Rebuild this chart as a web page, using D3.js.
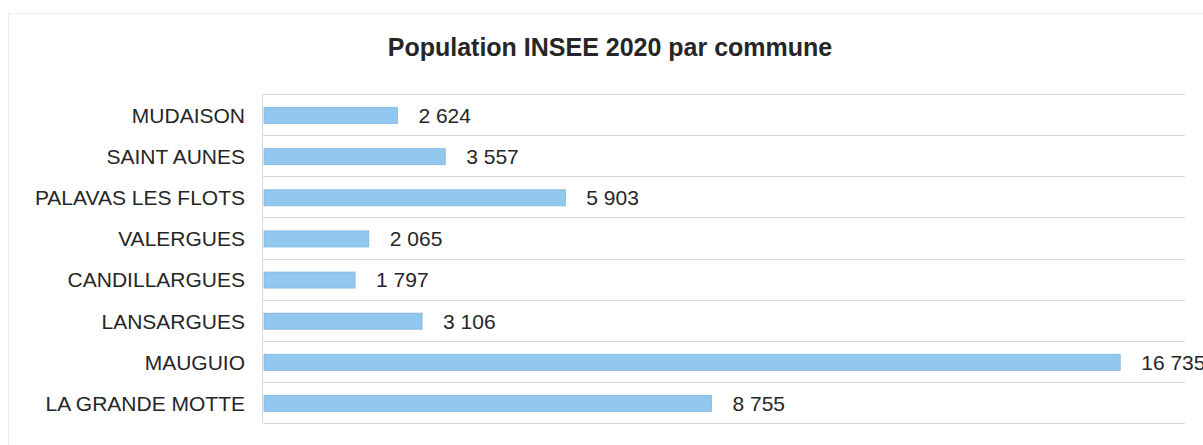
<!DOCTYPE html>
<html><head><meta charset="utf-8">
<script src="https://cdn.jsdelivr.net/npm/d3@7"></script>
<style>
html,body{margin:0;padding:0;background:#fff;}
svg{display:block;}
text{font-family:"Liberation Sans",Arial,sans-serif;fill:#262626;}
</style></head>
<body>
<svg id="chart" width="1203" height="445"></svg>
<script>
const title = "Population INSEE 2020 par commune";
const communes = ["MUDAISON","SAINT AUNES","PALAVAS LES FLOTS","VALERGUES","CANDILLARGUES","LANSARGUES","MAUGUIO","LA GRANDE MOTTE"];
const population = [2624,3557,5903,2065,1797,3106,16735,8755];
const xMax = 18000;

const svg = d3.select("#chart");
const W = 1203, H = 445;
const plot = {left:263, right:1185, top:94, bottom:423};

// faint chart border
svg.append("rect").attr("x",8.5).attr("y",13.5).attr("width",W).attr("height",H)
  .attr("fill","none").attr("stroke","#ececec").attr("stroke-width",1);

svg.append("text").attr("x",610).attr("y",56).attr("text-anchor","middle")
  .style("font-weight","bold").style("font-size","25px").text(title);

const x = d3.scaleLinear().domain([0,xMax]).range([plot.left,plot.right]);
const y = d3.scaleBand().domain(communes).range([plot.top,plot.bottom]).paddingInner(0).paddingOuter(0);

const fr = d3.formatLocale({decimal:",",thousands:"\u00a0",grouping:[3],currency:["","\u00a0€"]});
const fmt = fr.format(",d");

// gridlines at band boundaries
const bounds = communes.map(c=>y(c)).concat([y(communes[communes.length-1])+y.bandwidth()]);
svg.append("g").selectAll("line").data(bounds).join("line")
  .attr("x1",plot.left).attr("x2",plot.right)
  .attr("y1",d=>Math.round(d)+0.5).attr("y2",d=>Math.round(d)+0.5)
  .attr("stroke","#d9d9d9").attr("stroke-width",1);

// category axis line
svg.append("line").attr("x1",plot.left-0.5).attr("x2",plot.left-0.5)
  .attr("y1",plot.top).attr("y2",plot.bottom).attr("stroke","#d9d9d9");

const barH = y.bandwidth()*0.39;
svg.append("g").selectAll("rect").data(communes).join("rect")
  .attr("x",x(0)+1)
  .attr("y",(d)=>y(d)+y.bandwidth()/2-barH/2+1)
  .attr("width",(d,i)=>x(population[i])-x(0)-1)
  .attr("height",barH)
  .attr("fill","#92c7ee").attr("stroke","#7fb6e0").attr("stroke-width",0.8);

// category labels
svg.append("g").selectAll("text").data(communes).join("text")
  .attr("x",plot.left-18).attr("y",d=>y(d)+y.bandwidth()/2+1)
  .attr("dy","0.35em").attr("text-anchor","end").style("font-size","21px").text(d=>d);

// value labels
svg.append("g").selectAll("text").data(communes).join("text")
  .attr("x",(d,i)=>x(population[i])+21).attr("y",d=>y(d)+y.bandwidth()/2+1)
  .attr("dy","0.35em").attr("text-anchor","start").style("font-size","21px")
  .text((d,i)=>fmt(population[i]));
</script>
</body></html>
